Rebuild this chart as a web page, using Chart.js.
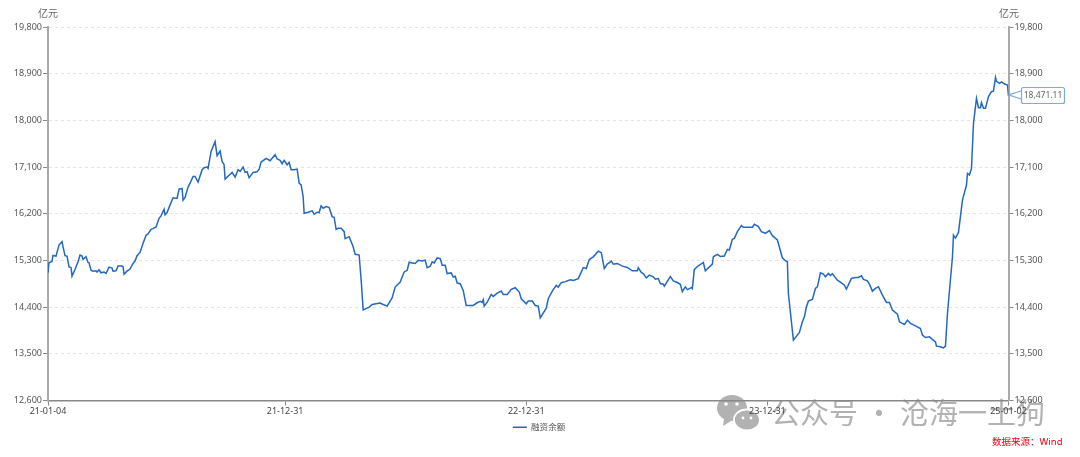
<!DOCTYPE html>
<html><head><meta charset="utf-8">
<style>html,body{margin:0;padding:0;background:#fff}#w{width:1080px;height:457px}</style>
<script src="https://cdn.jsdelivr.net/npm/chart.js@4"></script></head>
<body><div id="w"><canvas id="c" width="1080" height="457"></canvas></div>
<script>
const seriesName='融资余额';
const unitLabel='亿元';
const sourceText='数据来源：Wind';
const watermarkText='公众号 · 沧海一土狗';
const lastLabel='18,471.11';
const tickDays=[0,237,478,719,960];
const tickLabels=['21-01-04','21-12-31','22-12-31','23-12-31','25-01-02'];
const yTicks=[12600,13500,14400,15300,16200,17100,18000,18900,19800];
const days=[0,1,4,5,8,11,14,15,17,19,21,23,24,27,30,32,34,35,38,40,41,43,45,48,49,51,53,56,58,61,64,65,68,70,74,75,76,79,82,85,87,89,92,95,98,100,103,105,108,111,113,116,117,119,122,125,129,131,134,135,137,140,142,145,147,150,154,156,159,160,163,167,169,172,174,176,177,184,187,190,192,195,197,199,201,205,209,211,213,215,218,222,227,229,232,234,236,239,241,243,246,249,251,253,255,256,260,264,266,269,271,273,275,278,281,284,286,288,290,293,296,297,301,305,307,310,311,313,315,321,324,332,335,339,344,347,352,356,359,361,364,367,370,374,377,379,382,384,386,389,392,394,397,399,403,405,407,409,412,415,418,425,429,432,434,435,436,439,443,445,449,453,455,459,463,467,471,473,478,480,484,487,490,492,498,500,504,508,510,513,517,522,525,530,535,538,541,545,550,553,556,559,563,565,569,574,579,584,589,590,593,595,598,601,605,607,610,612,615,616,622,625,629,632,634,637,639,643,644,646,650,655,657,664,665,669,672,676,679,681,684,686,689,693,695,700,704,706,710,713,717,721,724,729,734,737,739,740,745,751,754,756,758,760,764,767,769,772,775,777,780,782,784,789,793,796,798,803,807,810,813,815,819,821,824,827,830,834,838,841,844,849,851,856,859,862,867,872,874,877,881,887,888,892,895,897,899,904,905,907,910,914,918,919,921,923,925,928,930,932,933,935,937,940,943,945,947,948,951,953,956,959,960];
const balances=[15062,15255,15281,15397,15384,15597,15662,15565,15391,15384,15178,15165,14997,15126,15275,15404,15384,15320,15371,15262,15255,15113,15094,15100,15075,15120,15062,15075,15049,15171,15152,15094,15100,15191,15191,15178,15036,15094,15133,15242,15288,15391,15455,15629,15784,15810,15900,15913,15945,16113,16158,16287,16178,16223,16371,16507,16494,16674,16687,16461,16513,16713,16790,16919,16919,16810,17048,17087,17100,17074,17403,17590,17319,17410,17210,17145,16868,16997,16906,17048,17016,17100,16997,17010,16894,16997,17010,17061,17197,17223,17268,17223,17339,17255,17229,17165,17229,17145,17190,17048,17048,17061,16790,16758,16532,16210,16229,16255,16190,16229,16223,16352,16307,16339,16320,16145,16133,15900,15920,15920,15855,15720,15758,15565,15417,15410,15401,14917,14348,14400,14451,14477,14451,14419,14581,14787,14884,15078,15110,15265,15252,15240,15304,15291,15304,15162,15188,15272,15252,15349,15336,15207,15207,15046,15059,14981,14994,14865,14852,14723,14432,14432,14484,14510,14490,14542,14419,14497,14645,14606,14671,14710,14645,14645,14742,14774,14690,14561,14464,14516,14516,14432,14419,14193,14380,14561,14710,14820,14787,14871,14891,14929,14916,14949,15162,15143,15317,15369,15479,15449,15145,15229,15287,15229,15242,15190,15164,15100,15100,15158,15067,15048,14964,15016,14983,14938,14951,14854,14841,14803,14990,14906,14874,14841,14699,14790,14738,14777,14757,15126,15197,15261,15100,15229,15371,15416,15378,15384,15513,15500,15707,15726,15856,15972,15940,15940,15940,15998,15952,15856,15823,15875,15778,15694,15352,15294,15274,14663,13763,13911,14117,14213,14406,14515,14548,14760,14792,15062,15036,14985,15049,15011,15043,14921,14869,14824,14747,14953,14972,14972,15004,14933,14908,14843,14708,14760,14792,14631,14490,14490,14342,14265,14117,14065,14149,14085,14040,13988,13860,13815,13827,13731,13648,13635,13615,13648,14278,15371,15789,15731,15840,16464,16753,16978,16946,17075,17943,18425,18245,18245,18341,18232,18232,18457,18553,18566,18830,18753,18714,18740,18701,18682,18471.11];

const extras={id:'extras',
 beforeDraw(ch){
  const c=ch.ctx;
  c.save();
  c.fillStyle='#b2b2b2';c.font='29px "Noto Sans CJK SC"';c.textBaseline='middle';c.textAlign='left';
  c.fillText(watermarkText,771,413);
  const bubble=(cx,cy,rx,ry,tx,ty)=>{c.beginPath();c.ellipse(cx,cy,rx,ry,0,0,Math.PI*2);c.fill();c.beginPath();c.moveTo(cx-rx*.5,cy+ry*.6);c.lineTo(tx,ty);c.lineTo(cx+rx*.2,cy+ry*.8);c.fill();};
  bubble(732,408,15,13,723,426);
  c.strokeStyle='#fff';c.lineWidth=2;c.beginPath();c.ellipse(747,420,13,10.5,0,0,Math.PI*2);c.stroke();
  bubble(747,420,12,9.5,754,429);
  c.fillStyle='#fff';
  for(const [dx,dy,r] of [[726,404,1.8],[737,404,1.8],[743,418,1.4],[751,418,1.4]]){c.beginPath();c.arc(dx,dy,r,0,Math.PI*2);c.fill();}
  c.restore();
 },
 afterDraw(ch){
  const c=ch.ctx,y=ch.scales.y,x=ch.scales.x;
  c.save();
  c.font='10px "Noto Sans CJK SC"';c.fillStyle='#666';c.textBaseline='middle';c.textAlign='center';
  c.fillText(unitLabel,48,13.5);c.fillText(unitLabel,1009,13.5);
  c.fillStyle='#e60012';c.textAlign='left';c.font='9.5px "Noto Sans","Noto Sans CJK SC"';c.fillText(sourceText,992,442);
  // last value callout
  const px=x.getPixelForValue(days[days.length-1]),py=y.getPixelForValue(balances[balances.length-1]);
  const bx=1021,by=87,bw=43,bh=16;
  c.strokeStyle='#7fa9e2';c.lineWidth=1.2;
  c.beginPath();c.moveTo(px,py-1);c.lineTo(bx,by+4);c.moveTo(px,py-1);c.lineTo(bx,by+12);c.stroke();
  c.fillStyle='#fff';c.beginPath();c.roundRect(bx+.5,by+.5,bw,bh,2);c.fill();c.stroke();
  c.fillStyle='#666';c.font='8.5px "Noto Sans"';c.textAlign='center';c.fillText(lastLabel,bx+bw/2+.5,by+bh/2+.5);
  c.restore();
 }};
const tickFont={family:'"Noto Sans"',size:9};
const yAxis=(pos,w,grid)=>({type:'linear',position:pos,min:12600,max:19800,
  afterBuildTicks:s=>{s.ticks=yTicks.map(v=>({value:v}));},
  afterFit:s=>{s.width=w;},
  border:{color:'#aaaaaa',width:2,dash:grid?[3,3]:[]},
  grid:grid?{display:true,drawOnChartArea:true,drawTicks:true,tickLength:5,color:'#e4e4e4',tickColor:'#888',tickBorderDash:[]}:{drawOnChartArea:false,tickLength:5,color:'#888'},
  ticks:{color:'#555',font:tickFont,padding:1,callback:v=>Number(v).toLocaleString('en-US')}});
new Chart(document.getElementById('c'),{type:'line',
 data:{datasets:[{label:seriesName,data:days.map((d,i)=>({x:d,y:balances[i]})),borderColor:'#2468bf',backgroundColor:'#2468bf',borderWidth:1.5,pointRadius:0,pointStyle:'line',tension:0,yAxisID:'y'}]},
 plugins:[extras],
 options:{responsive:false,animation:false,
  layout:{padding:{top:27,bottom:15.5,left:0,right:2}},
  plugins:{tooltip:{enabled:false},
   legend:{position:'bottom',labels:{usePointStyle:true,pointStyleWidth:14,boxHeight:9,padding:6,color:'#555',font:{family:'"Noto Sans CJK SC"',size:8.5}}}},
  scales:{
   x:{type:'linear',min:0,max:960,
    afterBuildTicks:s=>{s.ticks=tickDays.map(v=>({value:v}));},
    afterFit:s=>{s.height=16.5;},
    border:{color:'#888',width:1.5},
    grid:{drawOnChartArea:false,tickLength:5,color:'#888'},
    ticks:{color:'#444',font:tickFont,padding:1,maxRotation:0,autoSkip:false,callback:v=>tickLabels[tickDays.indexOf(v)]}},
   y:yAxis('left',48,true),
   y1:yAxis('right',69.5,false)}}});
</script></body></html>
